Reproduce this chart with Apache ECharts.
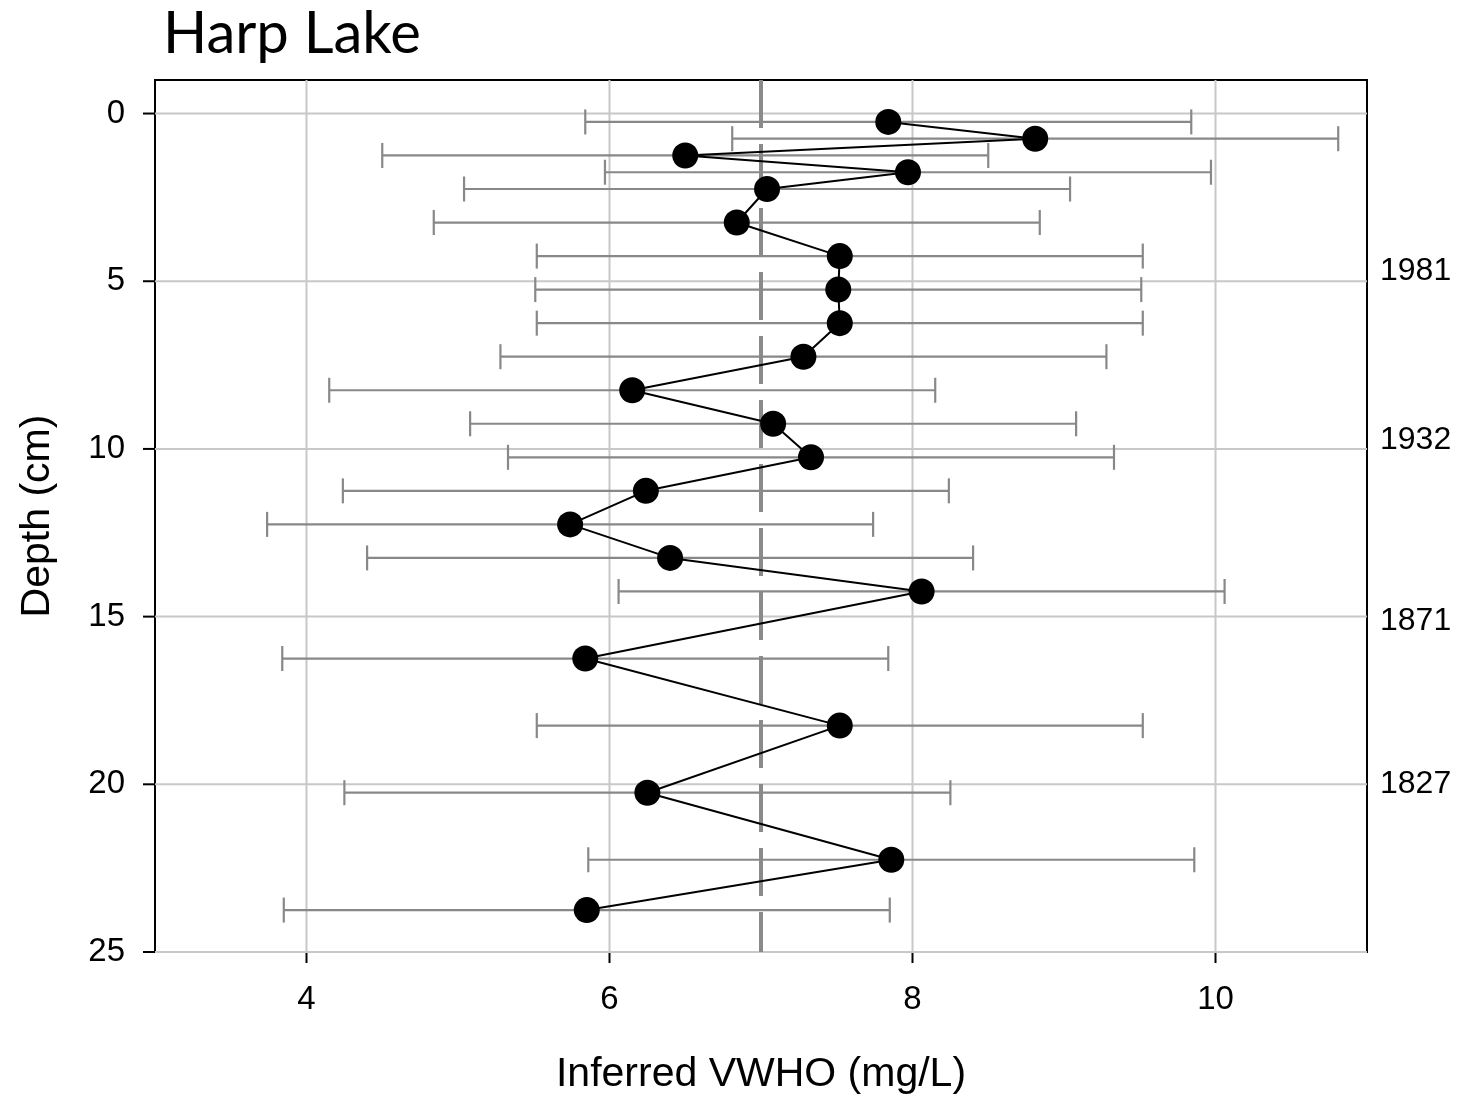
<!DOCTYPE html>
<html>
<head>
<meta charset="utf-8">
<script src="https://cdn.jsdelivr.net/npm/echarts@6/dist/echarts.min.js"></script>
<style>
  html, body { margin: 0; padding: 0; background: #fff; }
  #chart { width: 1461px; height: 1096px; }
</style>
</head>
<body>
<div id="chart"></div>
<script>
// depth (cm) of each sample
const depths = [0.25, 0.75, 1.25, 1.75, 2.25, 3.25, 4.25, 5.25, 6.25, 7.25, 8.25, 9.25, 10.25, 11.25, 12.25, 13.25, 14.25, 16.25, 18.25, 20.25, 22.25, 23.75];
// inferred VWHO (mg/L)
const vwho = [7.84, 8.81, 6.50, 7.97, 7.04, 6.84, 7.52, 7.51, 7.52, 7.28, 6.15, 7.08, 7.33, 6.24, 5.74, 6.40, 8.06, 5.84, 7.52, 6.25, 7.86, 5.85];
// error bar ends
const errLow = [5.84, 6.81, 4.50, 5.97, 5.04, 4.84, 5.52, 5.51, 5.52, 5.28, 4.15, 5.08, 5.33, 4.24, 3.74, 4.40, 6.06, 3.84, 5.52, 4.25, 5.86, 3.85];
const errHigh = [9.84, 10.81, 8.50, 9.97, 9.04, 8.84, 9.52, 9.51, 9.52, 9.28, 8.15, 9.08, 9.33, 8.24, 7.74, 8.40, 10.06, 7.84, 9.52, 8.25, 9.86, 7.85];
// reference line
const refValue = 7;
// tick values
const xTicks = [4, 6, 8, 10];
const yTicks = [0, 5, 10, 15, 20, 25];
// dates shown at right
const dateLabels = ['1981', '1932', '1871', '1827'];
const dateDepths = [4.7, 9.75, 15.15, 20.0];

const chart = echarts.init(document.getElementById('chart'));

const option = {
    animation: false,
    backgroundColor: '#fff',
    title: {
        text: 'Harp Lake',
        left: 158,
        top: 0,
        textStyle: { fontFamily: 'Lato', fontWeight: 'normal', fontSize: 58, color: '#000' }
    },
    grid: {
        left: 155, right: 94, top: 80, bottom: 144,
        outerBoundsMode: 'none',
        containLabel: false,
        show: true, borderColor: '#000', borderWidth: 2, backgroundColor: 'transparent'
    },
    xAxis: {
        type: 'value',
        min: 3, max: 11, interval: 1,
        name: 'Inferred VWHO (mg/L)',
        nameLocation: 'middle',
        nameGap: 102,
        nameTextStyle: { fontFamily: 'Liberation Sans', fontSize: 41, color: '#000' },
        axisLine: { show: true, onZero: false, lineStyle: { color: '#000', width: 2 } },
        axisTick: { show: false },
        axisLabel: {
            fontFamily: 'Liberation Sans', fontSize: 33, color: '#000', margin: 31,
            formatter: function (v) { return xTicks.indexOf(v) >= 0 ? String(v) : ''; }
        },
        splitLine: { show: false }
    },
    yAxis: {
        type: 'value',
        inverse: true,
        min: -1, max: 25, interval: 1,
        name: 'Depth (cm)',
        nameLocation: 'middle',
        nameGap: 97,
        nameRotate: 90,
        nameTextStyle: { fontFamily: 'Liberation Sans', fontSize: 41, color: '#000' },
        axisLine: { show: true, onZero: false, lineStyle: { color: '#000', width: 2 } },
        axisTick: { show: false },
        axisLabel: {
            fontFamily: 'Liberation Sans', fontSize: 33, color: '#000', margin: 30,
            formatter: function (v) { return yTicks.indexOf(v) >= 0 ? String(v) : ''; }
        },
        splitLine: { show: false }
    },
    series: [
        // grid lines and ticks at labelled values
        {
            type: 'custom',
            silent: true,
            z: 1,
            clip: false,
            data: [0],
            renderItem: function (params, api) {
                const children = [];
                xTicks.forEach(function (x) {
                    const a = api.coord([x, -1]), b = api.coord([x, 25]);
                    children.push({ type: 'line', shape: { x1: a[0], y1: a[1], x2: b[0], y2: b[1] }, style: { stroke: '#c8c8c8', lineWidth: 2 } });
                    children.push({ type: 'line', shape: { x1: b[0], y1: b[1], x2: b[0], y2: b[1] + 11 }, style: { stroke: '#000', lineWidth: 2 } });
                });
                yTicks.forEach(function (y) {
                    const a = api.coord([3, y]), b = api.coord([11, y]);
                    children.push({ type: 'line', shape: { x1: a[0], y1: a[1], x2: b[0], y2: b[1] }, style: { stroke: '#c8c8c8', lineWidth: 2 } });
                    children.push({ type: 'line', shape: { x1: a[0] - 12, y1: a[1], x2: a[0], y2: a[1] }, style: { stroke: '#000', lineWidth: 2 } });
                });
                return { type: 'group', children: children };
            }
        },
        // dashed reference line
        {
            type: 'line',
            data: [[refValue, -1], [refValue, 25]],
            symbol: 'none',
            z: 2,
            lineStyle: { color: '#8a8a8a', width: 4, type: [48, 16] }
        },
        // error bars
        {
            type: 'custom',
            z: 3,
            data: depths.map(function (d, i) { return [errLow[i], errHigh[i], d]; }),
            renderItem: function (params, api) {
                const a = api.coord([api.value(0), api.value(2)]);
                const b = api.coord([api.value(1), api.value(2)]);
                const h = 12.5;
                const st = { stroke: '#888', lineWidth: 2.2 };
                return {
                    type: 'group',
                    children: [
                        { type: 'line', shape: { x1: a[0], y1: a[1], x2: b[0], y2: b[1] }, style: st },
                        { type: 'line', shape: { x1: a[0], y1: a[1] - h, x2: a[0], y2: a[1] + h }, style: st },
                        { type: 'line', shape: { x1: b[0], y1: b[1] - h, x2: b[0], y2: b[1] + h }, style: st }
                    ]
                };
            }
        },
        // profile
        {
            type: 'line',
            z: 4,
            data: depths.map(function (d, i) { return [vwho[i], d]; }),
            symbol: 'circle',
            symbolSize: 26,
            itemStyle: { color: '#000' },
            lineStyle: { color: '#000', width: 2 }
        },
        // dates on the right
        {
            type: 'custom',
            z: 5,
            clip: false,
            silent: true,
            data: dateDepths.map(function (d, i) { return [11, d, i]; }),
            renderItem: function (params, api) {
                const p = api.coord([api.value(0), api.value(1)]);
                return {
                    type: 'text',
                    x: p[0] + 13,
                    y: p[1],
                    style: {
                        text: dateLabels[api.value(2)],
                        fill: '#000',
                        font: '32px "Liberation Sans"',
                        textAlign: 'left',
                        textVerticalAlign: 'middle'
                    }
                };
            }
        }
    ]
};

chart.setOption(option);
</script>
</body>
</html>
